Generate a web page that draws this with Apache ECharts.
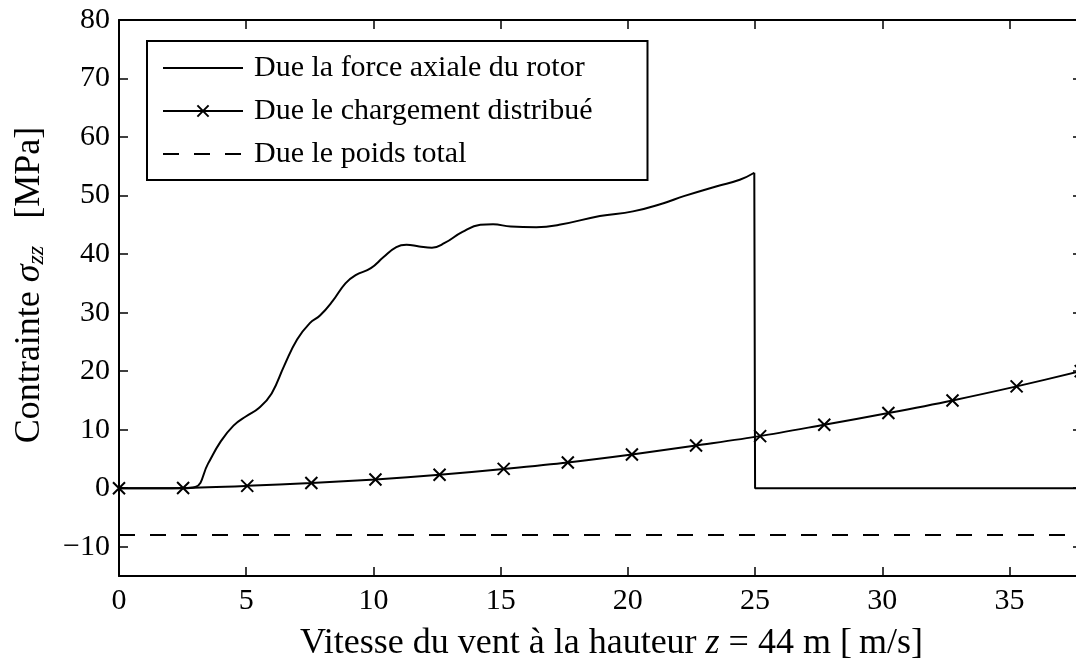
<!DOCTYPE html>
<html>
<head>
<meta charset="utf-8">
<script src="https://cdn.jsdelivr.net/npm/echarts@6/dist/echarts.min.js"></script>
<style>
  html, body { margin: 0; padding: 0; background: #fff; }
  #chart { width: 1076px; height: 663px; }
</style>
</head>
<body>
<div id="chart"></div>
<script>
// Wind speed at hub height [m/s] and axial stress sigma_zz [MPa]

// Stress due to the rotor axial force (drops to zero at cut-out speed)
const rotorSpeed = [0, 2.5, 3.0, 3.5, 4.0, 4.5, 5.0, 5.5, 6.0, 6.5, 7.0, 7.5, 7.9, 8.4, 8.9, 9.3, 9.9, 10.4, 10.9, 11.3, 11.8, 12.3, 12.8, 13.5, 14.2, 14.7, 15.4, 16.4, 17.3, 18.9, 20.2, 21.4, 22.2, 23.5, 24.4, 24.97, 25.0, 37.85];
const rotorStress = [0, 0, 0.2, 4.2, 8.0, 10.7, 12.3, 13.7, 16.2, 21.0, 25.4, 28.2, 29.5, 32.0, 35.0, 36.4, 37.6, 39.5, 41.2, 41.6, 41.3, 41.1, 41.9, 43.8, 45.0, 45.1, 44.7, 44.6, 45.0, 46.5, 47.3, 48.7, 49.9, 51.6, 52.7, 53.9, 0, 0];
const cutOutIndex = 35; // last point before the drop

// Stress due to the distributed load
const loadSpeed = [0, 2.52, 5.04, 7.56, 10.08, 12.6, 15.12, 17.64, 20.16, 22.68, 25.2, 27.72, 30.24, 32.76, 35.28, 37.8];
const loadStress = [0, 0.05, 0.4, 0.9, 1.5, 2.3, 3.3, 4.4, 5.75, 7.3, 8.9, 10.85, 12.85, 15.0, 17.4, 20.0];

// Stress due to the total weight
const weightSpeed = [0, 37.85];
const weightStress = [-8, -8];

// Axis ticks
const xTicks = [0, 5, 10, 15, 20, 25, 30, 35];
const yTicks = [-10, 0, 10, 20, 30, 40, 50, 60, 70, 80];

const seriesNames = ['Due la force axiale du rotor', 'Due le chargement distribué', 'Due le poids total'];

const FONT = 'Liberation Serif';
const pairs = (xs, ys) => xs.map((x, i) => [x, ys[i]]);
const fmt = v => (v < 0 ? '\u2212' + Math.abs(v) : String(v));

const axisLine = { show: true, onZero: false, lineStyle: { color: '#000', width: 2 } };
const tick = (vals) => ({ show: true, inside: true, length: 9, customValues: vals, lineStyle: { color: '#000', width: 1.5 } });

const rotorPts = pairs(rotorSpeed, rotorStress);
const noMarker = { itemStyle: { opacity: 0 } };

const chart = echarts.init(document.getElementById('chart'), null, { renderer: 'canvas' });

chart.setOption({
  animation: false,
  backgroundColor: '#fff',
  textStyle: { fontFamily: FONT, color: '#000' },
  grid: { left: 119, top: 20, width: 963, height: 556, containLabel: false, outerBoundsMode: 'none' },
  legend: {
    orient: 'vertical',
    left: 147,
    top: 41,
    data: [
      Object.assign({ name: seriesNames[0] }, noMarker),
      { name: seriesNames[1] },
      Object.assign({ name: seriesNames[2] }, noMarker)
    ],
    itemWidth: 80,
    itemHeight: 14,
    itemGap: 13,
    padding: [12, 55, 11, 15],
    borderColor: '#000',
    borderWidth: 2,
    backgroundColor: '#fff',
    textStyle: { fontFamily: FONT, fontSize: 30, color: '#000', lineHeight: 30, padding: [0, 0, 0, 6] }
  },
  xAxis: [
    {
      type: 'value', position: 'bottom', min: 0, max: 37.85,
      axisLine: axisLine,
      axisTick: tick(xTicks),
      splitLine: { show: false },
      axisLabel: { customValues: xTicks, formatter: fmt, fontFamily: FONT, fontSize: 30, color: '#000', margin: 10 },
      name: 'Vitesse du vent à la hauteur {it|z} = 44 m [\u2009m/s]',
      nameLocation: 'middle',
      nameGap: 50,
      nameTextStyle: {
        fontFamily: FONT, fontSize: 36, color: '#000', padding: [0, 0, 0, 22],
        rich: { it: { fontFamily: FONT, fontSize: 36, fontStyle: 'italic', color: '#000' } }
      }
    },
    {
      type: 'value', position: 'top', min: 0, max: 37.85,
      axisLine: axisLine,
      axisTick: tick(xTicks),
      axisLabel: { show: false },
      splitLine: { show: false }
    }
  ],
  yAxis: [
    {
      type: 'value', position: 'left', min: -15, max: 80,
      axisLine: axisLine,
      axisTick: tick(yTicks),
      splitLine: { show: false },
      axisLabel: { customValues: yTicks, formatter: fmt, fontFamily: FONT, fontSize: 30, color: '#000', margin: 9 },
      name: 'Contrainte {it|σ}{sub|zz}   [MPa]',
      nameLocation: 'middle',
      nameGap: 70,
      nameRotate: 90,
      nameTextStyle: {
        fontFamily: FONT, fontSize: 36, color: '#000', padding: [0, 0, 0, 26],
        rich: {
          it: { fontFamily: FONT, fontSize: 36, fontStyle: 'italic', color: '#000' },
          sub: { fontFamily: FONT, fontSize: 24, fontStyle: 'italic', color: '#000', verticalAlign: 'bottom', padding: [14, 0, 0, 0] }
        }
      }
    },
    {
      type: 'value', position: 'right', min: -15, max: 80,
      axisLine: axisLine,
      axisTick: tick(yTicks),
      axisLabel: { show: false },
      splitLine: { show: false }
    }
  ],
  series: [
    {
      // smooth part of the rotor curve
      name: seriesNames[0],
      type: 'line',
      data: rotorPts.slice(0, cutOutIndex + 1),
      smooth: 0.45,
      showSymbol: false,
      symbol: 'none',
      lineStyle: { color: '#000', width: 2 },
      itemStyle: { color: '#000' },
      z: 3
    },
    {
      // cut-out drop and zero section
      name: seriesNames[0],
      type: 'line',
      data: rotorPts.slice(cutOutIndex),
      showSymbol: false,
      symbol: 'none',
      lineStyle: { color: '#000', width: 2 },
      itemStyle: { color: '#000' },
      z: 3
    },
    {
      name: seriesNames[1],
      type: 'line',
      data: pairs(loadSpeed, loadStress),
      smooth: 0.3,
      symbol: 'path://M0,0L10,10M10,0L0,10',
      symbolSize: 12,
      showAllSymbol: true,
      lineStyle: { color: '#000', width: 2 },
      itemStyle: { color: 'rgba(0,0,0,0)', borderColor: '#000', borderWidth: 2 },
      z: 4
    },
    {
      name: seriesNames[2],
      type: 'line',
      data: pairs(weightSpeed, weightStress),
      showSymbol: false,
      symbol: 'none',
      lineStyle: { color: '#000', width: 2, type: [16, 15] },
      itemStyle: { color: '#000' },
      z: 2
    }
  ]
});
</script>
</body>
</html>
